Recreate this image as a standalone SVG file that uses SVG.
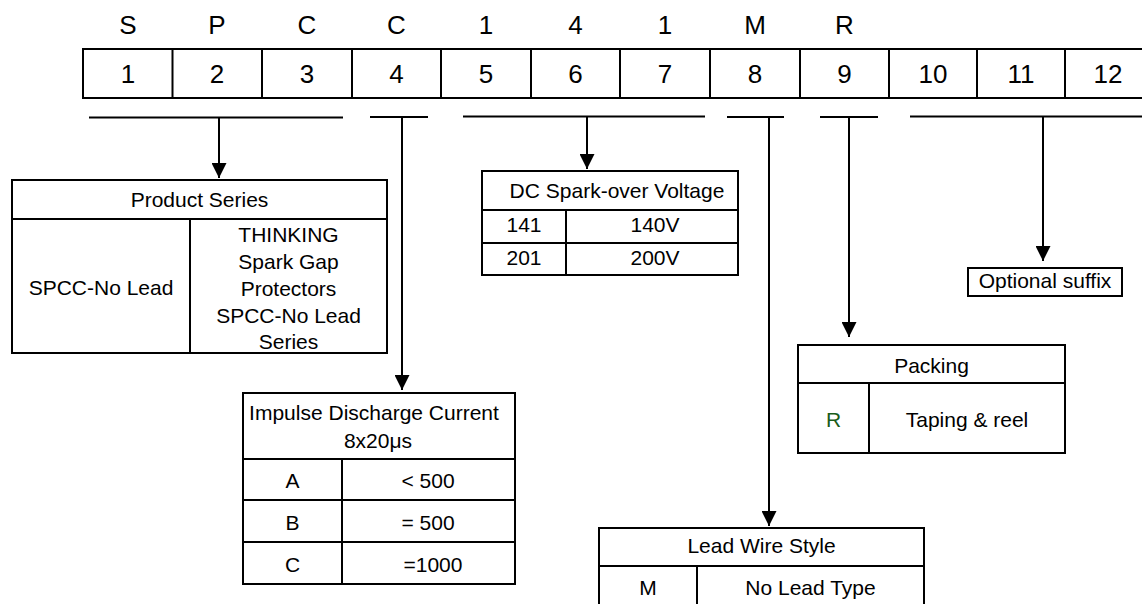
<svg xmlns="http://www.w3.org/2000/svg" width="1142" height="604" viewBox="0 0 1142 604">
<style>
.t{font-family:"Liberation Sans",Arial,sans-serif;font-size:21px;fill:#000;text-anchor:middle}
.big{font-family:"Liberation Sans",Arial,sans-serif;font-size:26px;fill:#000;text-anchor:middle}
.b{fill:#fff;stroke:#000;stroke-width:2}
.l{stroke:#000;stroke-width:2;fill:none}
.c{stroke:#000;stroke-width:2;fill:none;marker-end:url(#arr)}
</style>
<defs>
<marker id="arr" viewBox="0 0 10 10" refX="10" refY="5" markerWidth="15" markerHeight="15" markerUnits="userSpaceOnUse" orient="auto">
<path d="M0,0 L10,5 L0,10 z" fill="#000"/>
</marker>
</defs>
<rect width="1142" height="604" fill="#fff"/>
<g id="code">
<rect class="b" x="83" y="49" width="1075" height="49"/>
<path class="l" d="M172.5,49V98M262,49V98M352,49V98M441,49V98M531,49V98M620,49V98M710,49V98M800,49V98M889,49V98M977,49V98M1065,49V98"/>
<text class="big" x="128" y="34">S</text>
<text class="big" x="217" y="34">P</text>
<text class="big" x="307" y="34">C</text>
<text class="big" x="396.5" y="34">C</text>
<text class="big" x="486" y="34">1</text>
<text class="big" x="575.5" y="34">4</text>
<text class="big" x="665" y="34">1</text>
<text class="big" x="755" y="34">M</text>
<text class="big" x="844.5" y="34">R</text>
<text class="big" x="128" y="83">1</text>
<text class="big" x="217" y="83">2</text>
<text class="big" x="307" y="83">3</text>
<text class="big" x="396.5" y="83">4</text>
<text class="big" x="486" y="83">5</text>
<text class="big" x="575.5" y="83">6</text>
<text class="big" x="665" y="83">7</text>
<text class="big" x="755" y="83">8</text>
<text class="big" x="844.5" y="83">9</text>
<text class="big" x="933" y="83">10</text>
<text class="big" x="1021" y="83">11</text>
<text class="big" x="1108" y="83">12</text>
</g>
<g id="connectors">
<path class="l" d="M89,117.5H343M370,117H428M463,116.5H705M727,117H784M820,117H878M910,116.5H1160"/>
<path class="c" d="M219,117V178"/>
<path class="c" d="M402,117V390"/>
<path class="c" d="M587,116V169"/>
<path class="c" d="M769,117V526"/>
<path class="c" d="M849,117V337"/>
<path class="c" d="M1043,116V261"/>
</g>
<g id="product-series">
<rect class="b" x="12" y="180" width="375" height="173"/>
<path class="l" d="M12,219H387M190,219V353"/>
<text class="t" x="199.5" y="207">Product Series</text>
<text class="t" x="101" y="295">SPCC-No Lead</text>
<text class="t" x="288.5" y="242">THINKING</text>
<text class="t" x="288.5" y="269">Spark Gap</text>
<text class="t" x="288.5" y="296">Protectors</text>
<text class="t" x="288.5" y="323">SPCC-No Lead</text>
<text class="t" x="288.5" y="349">Series</text>
</g>
<g id="dc-voltage">
<rect class="b" x="482" y="171" width="256" height="104"/>
<path class="l" d="M482,210H738M482,243H738M566,210V275"/>
<text class="t" x="617" y="198">DC Spark-over Voltage</text>
<text class="t" x="524" y="232">141</text>
<text class="t" x="655" y="232">140V</text>
<text class="t" x="524" y="265">201</text>
<text class="t" x="655" y="265">200V</text>
</g>
<g id="optional-suffix">
<rect class="b" x="968" y="268" width="154" height="28"/>
<text class="t" x="1045" y="288">Optional suffix</text>
</g>
<g id="packing">
<rect class="b" x="798" y="345" width="267" height="108"/>
<path class="l" d="M798,383H1065M869,383V453"/>
<text class="t" x="931.5" y="373">Packing</text>
<text class="t" x="833.5" y="427" style="fill:#1a5c1a">R</text>
<text class="t" x="967" y="427">Taping &amp; reel</text>
</g>
<g id="impulse-current">
<rect class="b" x="243" y="393" width="272" height="191"/>
<path class="l" d="M243,459H515M243,500H515M243,542H515M342,459V584"/>
<text class="t" x="374" y="420">Impulse Discharge Current</text>
<text class="t" x="378" y="448">8x20μs</text>
<text class="t" x="292.5" y="488">A</text>
<text class="t" x="428" y="488">&lt; 500</text>
<text class="t" x="292.5" y="530">B</text>
<text class="t" x="428" y="530">= 500</text>
<text class="t" x="292.5" y="572">C</text>
<text class="t" x="433" y="572">=1000</text>
</g>
<g id="lead-wire">
<rect class="b" x="599" y="528" width="325" height="100"/>
<path class="l" d="M599,566H924M697,566V628"/>
<text class="t" x="761.5" y="553">Lead Wire Style</text>
<text class="t" x="648" y="595">M</text>
<text class="t" x="810.5" y="595">No Lead Type</text>
</g>
</svg>
